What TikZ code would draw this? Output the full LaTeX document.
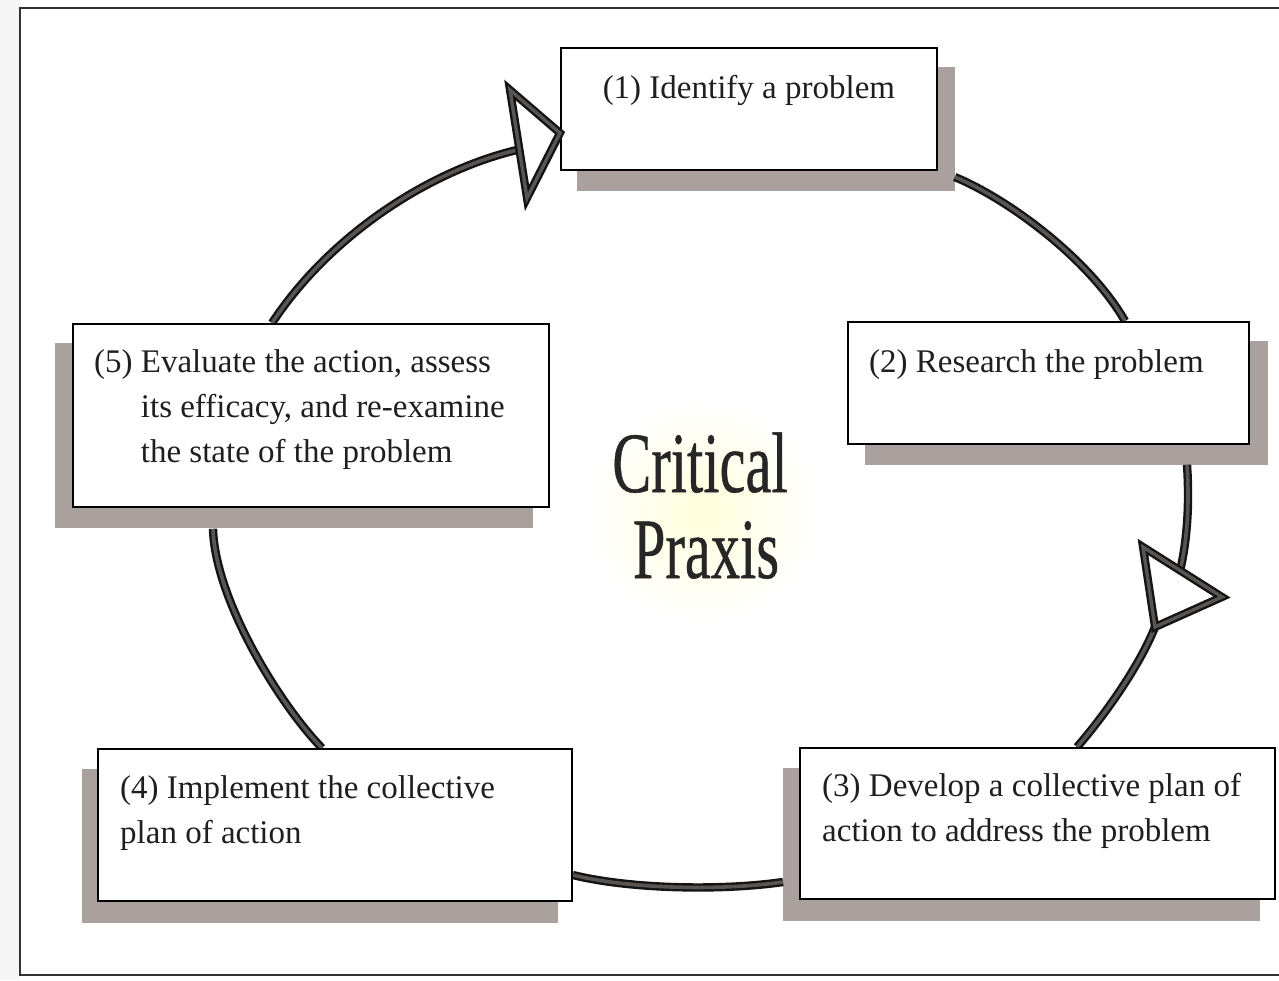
\documentclass[tikz,border=0pt]{standalone}
\usepackage{fontspec}
\setmainfont{Liberation Serif}
\usetikzlibrary{calc}
\pgfdeclarelayer{background}
\pgfsetlayers{background,main}
\definecolor{shadowc}{RGB}{170,160,157}
\definecolor{arcin}{RGB}{88,85,83}
\begin{document}
\begin{tikzpicture}[x=1pt,y=-1pt,
  box/.style={draw=black, line width=1.8pt, fill=white, anchor=north west, inner sep=0pt},
  txt/.style={font=\fontsize{33}{45}\selectfont, inner sep=0pt, text=black!88},
  bigtxt/.style={font=\fontsize{86}{86}\selectfont\addfontfeature{FakeBold=0.6}, inner sep=0pt, text=black!85, anchor=base},
  conn/.style={draw=black!92, line width=2.4pt, double=arcin, double distance=3.6pt},
  headtri/.style={draw=black!92, line width=2.4pt, double=arcin, double distance=3.4pt, fill=white, line join=miter},
  frame/.style={draw=black!80, line width=2.5pt}
]
\useasboundingbox (0,0) rectangle (1279,980);
\fill[black!4] (0,0) rectangle (20,980);
\draw[frame] (1279,8) -- (20,8) -- (20,975) -- (1279,975);

% boxes
\node[box, minimum width=376pt, minimum height=122pt] (b1) at (560,47) {};
\node[box, minimum width=401pt, minimum height=122pt] (b2) at (847,321) {};
\node[box, minimum width=475pt, minimum height=151pt] (b3) at (799,747) {};
\node[box, minimum width=474pt, minimum height=152pt] (b4) at (97,748) {};
\node[box, minimum width=476pt, minimum height=183pt] (b5) at (72,323) {};

% texts
\node[txt, anchor=base] (t1) at ([shift={(0,51)}]b1.north) {(1) Identify a problem};
\node[txt, anchor=base west] (t2) at ([shift={(22,51)}]b2.north west) {(2) Research the problem};
\node[txt, anchor=base west] (t3) at ([shift={(23,49)}]b3.north west)
  {\begin{tabular}[t]{@{}l@{}}(3) Develop a collective plan of\\action to address the problem\end{tabular}};
\node[txt, anchor=base west] (t4) at ([shift={(23,50)}]b4.north west)
  {\begin{tabular}[t]{@{}l@{}}(4) Implement the collective\\plan of action\end{tabular}};
\node[txt, anchor=base west] (t5) at ([shift={(22,49)}]b5.north west)
  {\begin{tabular}[t]{@{}l@{}}(5) Evaluate the action, assess\\\phantom{(5) }its efficacy, and re-examine\\\phantom{(5) }the state of the problem\end{tabular}};

% centre title
\node[bigtxt] (c1) at (700,492) {\scalebox{0.68}[1]{Critical}};
\node[bigtxt] (c2) at (706,578) {\scalebox{0.68}[1]{Praxis}};

% arrow heads
\coordinate (h1tip) at ([shift={(0,86)}]b1.north west);
\coordinate (h1a) at ([shift={(-50,-43)}]h1tip);
\coordinate (h1b) at ([shift={(-33,65)}]h1tip);
\coordinate (h2tip) at (1222,597);
\coordinate (h2a) at (1143,547);
\coordinate (h2b) at (1155,627);
\draw[headtri] (h1a) -- (h1tip) -- (h1b) -- cycle;
\draw[headtri] (h2a) -- (h2tip) -- (h2b) -- cycle;

\begin{pgfonlayer}{background}
  \shade[inner color=yellow!14, outer color=white] (703,512) ellipse [x radius=120, y radius=110];
  % shadows
  \fill[shadowc] ([shift={(17,20)}]b1.north west) rectangle ([shift={(17,20)}]b1.south east);
  \fill[shadowc] ([shift={(18,20)}]b2.north west) rectangle ([shift={(18,20)}]b2.south east);
  \fill[shadowc] ([shift={(-16,21)}]b3.north west) rectangle ([shift={(-16,21)}]b3.south east);
  \fill[shadowc] ([shift={(-15,21)}]b4.north west) rectangle ([shift={(-15,21)}]b4.south east);
  \fill[shadowc] ([shift={(-17,20)}]b5.north west) rectangle ([shift={(-17,20)}]b5.south east);
  % connectors
  \draw[conn] ([shift={(200,0)}]b5.north west) .. controls (330,235) and (430,170) .. ($(h1a)!0.55!(h1b)$);
  \draw[conn] ([shift={(17,130)}]b1.north east) .. controls (1010,200) and (1090,260) .. ([shift={(278,0)}]b2.north west);
  \draw[conn] ([shift={(340,20)}]b2.south west) .. controls (1190,510) and (1186,545) .. ($(h2a)!0.47!(h2tip)$);
  \draw[conn] (h2b) .. controls (1140,665) and (1105,715) .. ([shift={(278,0)}]b3.north west);
  \draw[conn] ([shift={(-16,135)}]b3.north west) .. controls (720,891) and (630,889) .. ([shift={(0,127)}]b4.north east);
  \draw[conn] ([shift={(225,0)}]b4.north west) .. controls (280,705) and (215,600) .. ([shift={(141,21)}]b5.south west);
\end{pgfonlayer}
\end{tikzpicture}
\end{document}
